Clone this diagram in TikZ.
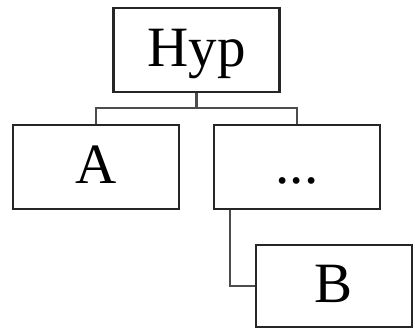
\documentclass[tikz,border=0pt]{standalone}
\usepackage{fontspec}
\setmainfont{Liberation Serif}
\usetikzlibrary{calc}
\tikzset{
  box/.style={draw=black!85, line width=2.2pt, fill=white, inner sep=0pt,
    minimum width=166pt, minimum height=84pt,
    text height=40pt, text depth=8pt,
    font=\fontsize{57}{60}\selectfont},
  link/.style={draw=black!70, line width=2.3pt}
}
\begin{document}
\begin{tikzpicture}[x=1pt,y=-1pt]
  \useasboundingbox (0,0) rectangle (415,330);
  \node[box] (hyp) at (196.5,50) {Hyp};
  \node[box] (a) at (96,167) {A};
  \node[box] (dots) at (297,167) {...};
  \node[box, minimum width=156pt, minimum height=82pt] (b) at (334,286) {B};
  \coordinate (fork) at ($(hyp.south)+(0,15)$);
  \draw[link] (hyp.south) -- (fork);
  \draw[link] (a.north) |- (fork) -| (dots.north);
  \coordinate (drop) at ($(dots.south west)+(17,0)$);
  \draw[link] (drop) |- (b.west);
\end{tikzpicture}
\end{document}
